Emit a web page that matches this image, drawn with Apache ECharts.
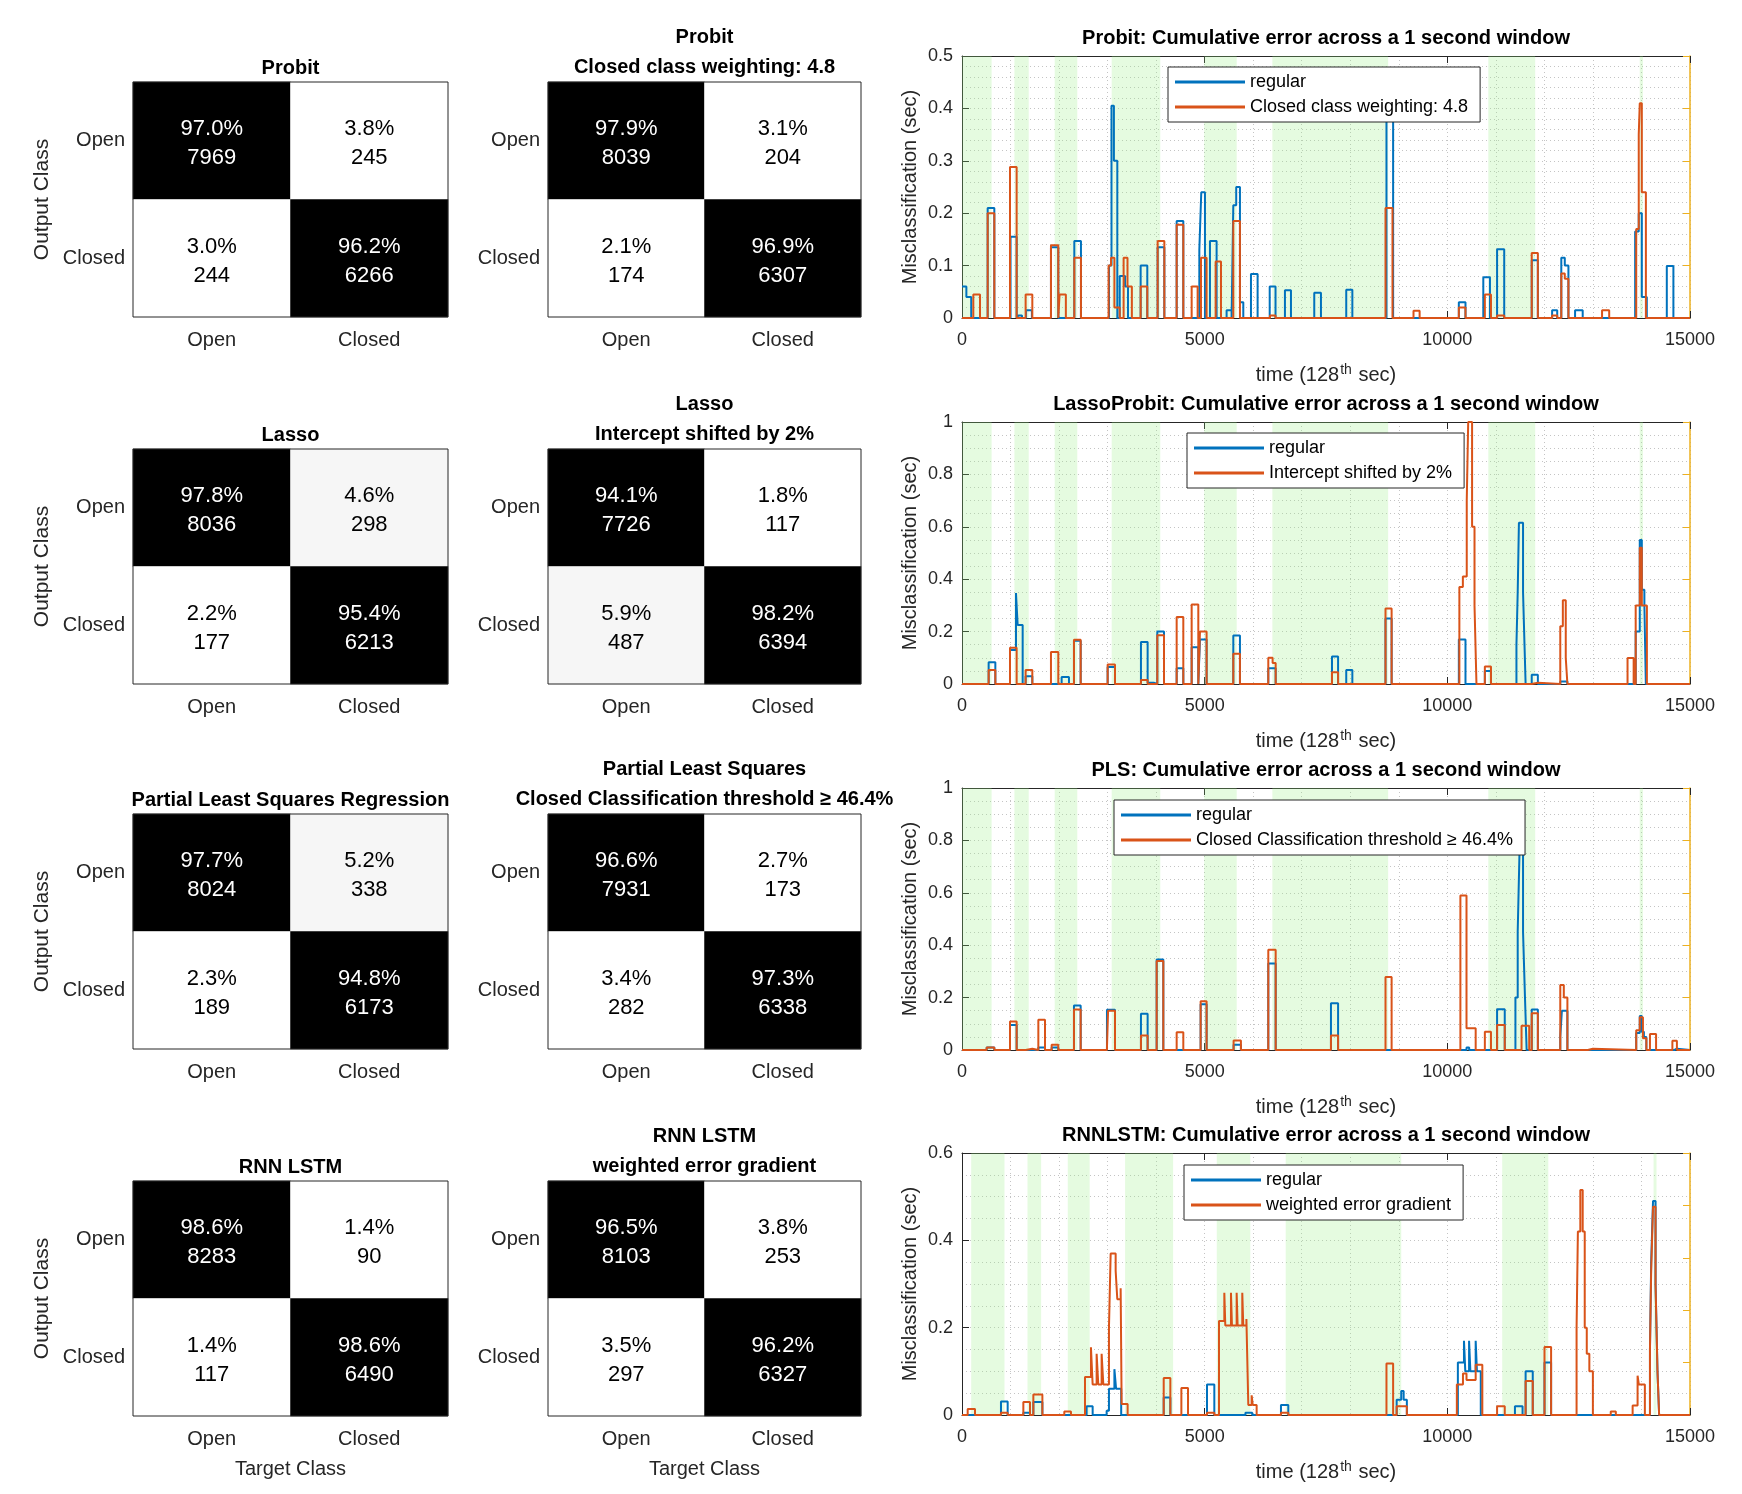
<!DOCTYPE html>
<html>
<head>
<meta charset="utf-8">
<script src="https://cdn.jsdelivr.net/npm/echarts@6/dist/echarts.min.js"></script>
<style>
html,body{margin:0;padding:0;background:#fff;}
#main{width:1742px;height:1494px;}
</style>
</head>
<body>
<div id="main"></div>
<script>
// ---------------- DATA ----------------
const classLabels = ['Open', 'Closed'];

// confusion matrices (row-major: [Out Open/Tgt Open, Out Open/Tgt Closed, Out Closed/Tgt Open, Out Closed/Tgt Closed])
const probitPct = [97.0, 3.8, 3.0, 96.2];
const probitCnt = [7969, 245, 244, 6266];
const probitWPct = [97.9, 3.1, 2.1, 96.9];
const probitWCnt = [8039, 204, 174, 6307];
const lassoPct = [97.8, 4.6, 2.2, 95.4];
const lassoCnt = [8036, 298, 177, 6213];
const lassoSPct = [94.1, 1.8, 5.9, 98.2];
const lassoSCnt = [7726, 117, 487, 6394];
const plsPct = [97.7, 5.2, 2.3, 94.8];
const plsCnt = [8024, 338, 189, 6173];
const plsTPct = [96.6, 2.7, 3.4, 97.3];
const plsTCnt = [7931, 173, 282, 6338];
const rnnPct = [98.6, 1.4, 1.4, 98.6];
const rnnCnt = [8283, 90, 117, 6490];
const rnnWPct = [96.5, 3.8, 3.5, 96.2];
const rnnWCnt = [8103, 253, 297, 6327];

const matTitles1 = ['Probit', 'Lasso', 'Partial Least Squares Regression', 'RNN LSTM'];
const matTitles2 = ['Probit\nClosed class weighting: 4.8', 'Lasso\nIntercept shifted by 2%',
  'Partial Least Squares\nClosed Classification threshold \u2265 46.4%', 'RNN LSTM\nweighted error gradient'];
const lineTitles = ['Probit: Cumulative error across a 1 second window',
  'LassoProbit: Cumulative error across a 1 second window',
  'PLS: Cumulative error across a 1 second window',
  'RNNLSTM: Cumulative error across a 1 second window'];
const altNames = ['Closed class weighting: 4.8', 'Intercept shifted by 2%',
  'Closed Classification threshold \u2265 46.4%', 'weighted error gradient'];

// y-axis settings of the error plots
const errYMax = [0.5, 1, 1, 0.6];
const errYInterval = [0.1, 0.2, 0.2, 0.2];
const errYMinor = [5, 4, 4, 4];

// shaded (closed) periods, in 128th sec
const shadeStd = [[0, 610], [1080, 1375], [1910, 2375], [3085, 4085], [4990, 5660], [6395, 8780], [10845, 11810], [13965, 14030]];
const shadeRnn = [[190, 875], [1350, 1630], [2180, 2630], [3360, 4350], [5250, 5940], [6670, 9050], [11130, 12080], [14250, 14310]];

// step series: [time, value] — value holds until the next point
const probitReg = [[0,0.06],[90,0.04],[190,0],[529,0.21],[666,0],[1000,0.155],[1126,0],[1162,0.005],[1236,0],[1320,0.015],[1440,0],
  [1833,0.135],[1984,0],[2314,0.147],[2451,0],[3030,0.1],[3080,0.405],[3130,0.3],[3200,0],[3250,0.08],[3360,0.06],[3420,0],
  [3681,0.1],[3818,0],[4031,0.135],[4169,0],[4423,0.185],[4560,0],[4890,0.13],[4930,0.24],[5006,0],[5109,0.147],[5246,0],
  [5452,0.015],[5555,0],[5590,0.215],[5650,0.25],[5727,0.03],[5796,0],[5954,0.084],[6091,0],[6340,0.06],[6460,0],
  [6654,0.053],[6778,0],[7258,0.048],[7396,0],[7917,0.054],[8043,0],[8746,0.39],[8883,0],[10237,0.03],[10374,0],
  [10741,0.078],[10878,0],[11025,0.131],[11172,0],[11739,0.11],[11865,0],[12159,0.015],[12264,0],[12348,0.115],[12420,0.1],[12495,0],
  [12632,0.015],[12789,0],[13870,0.165],[13944,0.2],[14007,0.04],[14110,0],[14522,0.099],[14658,0],[15000,0]];
const probitAlt = [[0,0],[233,0.045],[371,0],[529,0.2],[666,0],[989,0.288],[1126,0],[1311,0.045],[1449,0],[1833,0.139],[1984,0],
  [2010,0.045],[2140,0],[2314,0.115],[2451,0],[3020,0.1],[3070,0.115],[3140,0.02],[3250,0],[3330,0.115],[3410,0.06],[3500,0],
  [3681,0.06],[3818,0],[4031,0.147],[4169,0],[4423,0.178],[4560,0],[4732,0.06],[4855,0],[4924,0.115],[5040,0],[5226,0.108],[5336,0],
  [5590,0.185],[5727,0],[6346,0.005],[6460,0],[8726,0.21],[8870,0],[9303,0.014],[9429,0],[10237,0.02],[10374,0],[10773,0.045],[10899,0],
  [11025,0.005],[11172,0],[11739,0.124],[11865,0],[12159,0.005],[12264,0],[12348,0.085],[12420,0.075],[12495,0],[13188,0.015],[13335,0],
  [13892,0.17],[13944,0.35],[13965,0.41],[14007,0.24],[14091,0],[15000,0]];

const lassoReg = [[0,0],[549,0.083],[687,0],[989,0.13],[1112,0.347],[1147,0.225],[1250,0],[1311,0.03],[1449,0],[2053,0.027],[2204,0],
  [2307,0.165],[2445,0],[3001,0.065],[3152,0],[3687,0.16],[3825,0.005],[3950,0],[4024,0.2],[4162,0],[4423,0.06],[4560,0],
  [4732,0.14],[4869,0],[4903,0.17],[5040,0],[5590,0.185],[5727,0],[6311,0.06],[6463,0],[7623,0.105],[7749,0],[7917,0.053],[8043,0],
  [8726,0.25],[8852,0],[10237,0.17],[10374,0],[10773,0.05],[10899,0],[11424,0.15],[11450,0.35],[11475,0.615],[11560,0.35],[11590,0.15],[11613,0],
  [11739,0.035],[11865,0],[12327,0.01],[12474,0],[13881,0.2],[13965,0.55],[14007,0.36],[14060,0.3],[14090,0],[15000,0]];
const lassoAlt = [[0,0],[549,0.053],[687,0],[989,0.138],[1126,0],[1311,0.053],[1449,0],[1833,0.122],[1984,0],[2307,0.169],[2445,0],
  [3001,0.074],[3152,0],[3687,0.015],[3825,0],[4024,0.186],[4162,0],[4423,0.256],[4560,0],[4732,0.303],[4869,0],[4903,0.2],[5040,0],
  [5590,0.115],[5727,0],[6311,0.1],[6400,0.08],[6463,0],[7623,0.045],[7749,0],[8726,0.288],[8852,0],
  [10248,0.37],[10320,0.41],[10400,0.7],[10430,1.0],[10510,0.6],[10560,0.3],[10600,0],[10773,0.067],[10899,0],[11739,0.005],[11865,0],
  [12327,0.22],[12380,0.32],[12440,0.1],[12474,0],[13713,0.099],[13839,0],[13881,0.3],[13965,0.52],[14007,0.3],[14112,0],[15000,0]];

const plsReg = [[0,0],[508,0.01],[666,0],[989,0.095],[1126,0],[1573,0.01],[1710,0],[1847,0.01],[1984,0],[2307,0.17],[2445,0],
  [2987,0.154],[3152,0],[3687,0.138],[3825,0],[4011,0.345],[4148,0],[4917,0.175],[5040,0],[5596,0.02],[5747,0],[6311,0.33],[6463,0],
  [7602,0.178],[7749,0],[10395,0.01],[10450,0],[11025,0.156],[11183,0],[11403,0.2],[11450,0.45],[11490,0.78],[11560,0.45],[11600,0.2],[11634,0],
  [11739,0.155],[11865,0],[12327,0.05],[12360,0.15],[12474,0],[13892,0.065],[13965,0.13],[14007,0.07],[14050,0.05],[14101,0],
  [14680,0.005],[14730,0],[15000,0]];
const plsAlt = [[0,0],[508,0.01],[666,0],[989,0.109],[1126,0],[1311,0.005],[1449,0],[1573,0.115],[1710,0],[1847,0.02],[1984,0],
  [2307,0.155],[2445,0],[2987,0.01],[3010,0.15],[3152,0],[3687,0.055],[3825,0],[4011,0.34],[4148,0],[4423,0.068],[4560,0],
  [4917,0.186],[5040,0],[5596,0.036],[5747,0],[6311,0.383],[6463,0],[7602,0.055],[7749,0],[8726,0.279],[8852,0],
  [10269,0.59],[10395,0.083],[10584,0],[10773,0.07],[10899,0],[11025,0.095],[11183,0],[11529,0.093],[11687,0],[11739,0.14],[11865,0],
  [12327,0.248],[12400,0.2],[12474,0],[12894,0.005],[12999,0],[13892,0.075],[13965,0.125],[14030,0.045],[14101,0],
  [14175,0.061],[14301,0],[14637,0.035],[14730,0],[15000,0]];

const rnnReg = [[0,0],[803,0.031],[941,0],[1264,0.005],[1401,0],[1470,0.03],[1656,0],[2568,0.02],[2692,0],
  [2980,0.01],[3028,0.06],[3140,0.105],[3175,0.06],[3280,0],[4156,0.04],[4293,0],[5048,0.07],[5199,0],[5840,0.005],[5980,0],
  [6572,0.023],[6723,0],[8956,0.035],[9050,0.055],[9100,0.035],[9166,0],
  [10217,0.12],[10343,0.17],[10370,0.1],[10448,0.17],[10475,0.1],[10584,0.17],[10610,0.1],[10689,0],
  [11393,0.02],[11550,0],[11613,0.1],[11760,0],[12002,0.12],[12138,0],
  [14175,0.15],[14200,0.35],[14238,0.49],[14290,0.3],[14330,0.1],[14364,0],[15000,0]];
const rnnAlt = [[0,0],[117,0.014],[268,0],[803,0.005],[941,0],[1264,0.03],[1401,0],[1470,0.047],[1656,0],[2108,0.008],[2245,0],
  [2534,0.087],[2657,0.155],[2692,0.07],[2774,0.14],[2808,0.07],[2877,0.14],[2912,0.07],[3028,0.2],[3063,0.37],[3166,0.33],[3200,0.265],
  [3269,0.29],[3289,0.025],[3413,0],[4156,0.085],[4293,0],[4520,0.062],[4657,0],[5048,0.005],[5199,0],
  [5295,0.215],[5405,0.28],[5425,0.205],[5542,0.28],[5562,0.205],[5659,0.28],[5679,0.205],[5775,0.28],[5795,0.205],[5860,0.22],
  [5899,0.023],[5968,0.045],[5990,0.023],[6071,0],[6572,0.005],[6723,0],[8746,0.118],[8883,0],[8956,0.02],[9166,0],
  [10196,0.07],[10322,0.095],[10395,0.08],[10584,0.115],[10721,0],[11025,0.02],[11183,0],[11613,0.078],[11760,0],
  [12002,0.156],[12138,0],[12663,0.2],[12690,0.42],[12740,0.515],[12789,0.42],[12831,0.2],[12873,0.14],[12926,0.1],[12999,0],
  [13367,0.008],[13472,0],[13818,0.022],[13920,0.09],[13945,0.07],[14070,0],
  [14175,0.15],[14200,0.33],[14238,0.477],[14290,0.3],[14330,0.1],[14364,0],[15000,0]];

// ---------------- LAYOUT ----------------
const FONT = '"Liberation Sans", Arial, Helvetica, sans-serif';
const TXT = '#262626';
const BLUE = '#0072BD', ORANGE = '#D95319', GOLD = '#EDB120';
const rowTop = [82, 449, 814, 1181];
const matH = 235;
const matLeft = [133, 548];
const matW = [315, 313];
const lineTop = [56, 422, 788, 1153];
const lineLeft = 962, lineW = 728, lineH = 262;

const mats = [
  [[probitPct, probitCnt], [probitWPct, probitWCnt]],
  [[lassoPct, lassoCnt], [lassoSPct, lassoSCnt]],
  [[plsPct, plsCnt], [plsTPct, plsTCnt]],
  [[rnnPct, rnnCnt], [rnnWPct, rnnWCnt]]
];
const lines = [[probitReg, probitAlt], [lassoReg, lassoAlt], [plsReg, plsAlt], [rnnReg, rnnAlt]];
const shades = [shadeStd, shadeStd, shadeStd, shadeRnn];
const legendPos = [[1168, 67], [1187, 433], [1114, 800], [1184, 1165]];

const grids = [], xAxes = [], yAxes = [], series = [], titles = [], legends = [];
const heatIdx = [];

function matData(pct, cnt) {
  const d = [];
  for (let r = 0; r < 2; r++) for (let c = 0; c < 2; c++) d.push([c, r, pct[r * 2 + c], cnt[r * 2 + c]]);
  return d;
}

for (let r = 0; r < 4; r++) {
  // confusion matrices
  for (let k = 0; k < 2; k++) {
    const gi = grids.length;
    grids.push({left: matLeft[k], top: rowTop[r], width: matW[k], height: matH, show: true,
      borderColor: TXT, borderWidth: 1, backgroundColor: 'transparent', z: 10});
    const xi = xAxes.length;
    xAxes.push({type: 'category', gridIndex: gi, data: classLabels, position: 'bottom',
      axisLine: {show: false}, axisTick: {show: false}, splitLine: {show: false},
      axisLabel: {fontFamily: FONT, fontSize: 20, color: TXT, margin: 13},
      name: r === 3 ? 'Target Class' : '', nameLocation: 'middle', nameGap: 43,
      nameTextStyle: {fontFamily: FONT, fontSize: 20, color: TXT}});
    const yi = yAxes.length;
    yAxes.push({type: 'category', gridIndex: gi, data: classLabels, inverse: true,
      axisLine: {show: false}, axisTick: {show: false}, splitLine: {show: false},
      axisLabel: {fontFamily: FONT, fontSize: 20, color: TXT, margin: 8, padding: [6, 0, 0, 0]},
      name: k === 0 ? 'Output Class' : '', nameLocation: 'middle', nameGap: 80, nameRotate: 90,
      nameTextStyle: {fontFamily: FONT, fontSize: 21, color: TXT}});
    heatIdx.push(series.length);
    series.push({type: 'heatmap', xAxisIndex: xi, yAxisIndex: yi, animation: false,
      data: matData(mats[r][k][0], mats[r][k][1]),
      label: {show: true, fontFamily: FONT, offset: [0, 3],
        formatter: p => {
          const s = p.value[2] >= 50 ? 'w' : 'k';
          return '{' + s + '|' + p.value[2].toFixed(1) + '%}\n{' + s + '|' + p.value[3] + '}';
        },
        rich: {w: {color: '#fff', fontSize: 22, lineHeight: 29, fontFamily: FONT},
               k: {color: '#000', fontSize: 22, lineHeight: 29, fontFamily: FONT}}},
      emphasis: {disabled: true}});
  }
  // titles of matrices
  const c1 = matLeft[0] + matW[0] / 2, c2 = matLeft[1] + matW[1] / 2;
  titles.push({text: matTitles1[r], left: c1, textAlign: 'center', top: rowTop[r] - 29, padding: 0,
    textStyle: {fontFamily: FONT, fontSize: 20, fontWeight: 'bold', color: '#000', lineHeight: 30}});
  titles.push({text: matTitles2[r], left: c2, textAlign: 'center', top: rowTop[r] - 60, padding: 0,
    textStyle: {fontFamily: FONT, fontSize: 20, fontWeight: 'bold', color: '#000', lineHeight: 30}});
  titles.push({text: lineTitles[r], left: lineLeft + lineW / 2, textAlign: 'center', top: lineTop[r] - 32, padding: 0,
    textStyle: {fontFamily: FONT, fontSize: 20, fontWeight: 'bold', color: '#000', lineHeight: 28}});

  // error plot
  const gi = grids.length;
  grids.push({left: lineLeft, top: lineTop[r], width: lineW, height: lineH, show: false});
  const xb = xAxes.length;
  const dotted = {color: '#c4c4c4', type: [1, 3], width: 1};
  xAxes.push({type: 'value', gridIndex: gi, min: 0, max: 15000, interval: 5000, position: 'bottom',
    axisLine: {show: true, onZero: false, lineStyle: {color: TXT, width: 1}},
    axisTick: {show: true, inside: true, length: 7, lineStyle: {color: TXT}},
    axisLabel: {fontFamily: FONT, fontSize: 18, color: TXT, margin: 13, formatter: v => String(v)},
    splitLine: {show: true, lineStyle: dotted},
    minorTick: {show: false, splitNumber: 5},
    minorSplitLine: {show: true, lineStyle: dotted},
    name: 'time (128{sup|th} sec)', nameLocation: 'middle', nameGap: 45,
    nameTextStyle: {fontFamily: FONT, fontSize: 20, color: TXT,
      rich: {sup: {fontFamily: FONT, fontSize: 14, color: TXT, verticalAlign: 'top', padding: [0, 1, 10, 1]}}}});
  xAxes.push({type: 'value', gridIndex: gi, min: 0, max: 15000, interval: 5000, position: 'top',
    axisLine: {show: true, onZero: false, lineStyle: {color: TXT, width: 1}},
    axisTick: {show: true, inside: true, length: 7, lineStyle: {color: TXT}},
    axisLabel: {show: false}, splitLine: {show: false}});
  const yl = yAxes.length;
  yAxes.push({type: 'value', gridIndex: gi, min: 0, max: errYMax[r], interval: errYInterval[r], position: 'left',
    axisLine: {show: true, onZero: false, lineStyle: {color: TXT, width: 1}},
    axisTick: {show: true, inside: true, length: 7, lineStyle: {color: TXT}},
    axisLabel: {fontFamily: FONT, fontSize: 18, color: TXT, margin: 9},
    splitLine: {show: true, lineStyle: dotted},
    minorTick: {show: false, splitNumber: errYMinor[r]},
    minorSplitLine: {show: true, lineStyle: dotted},
    name: 'Misclassification (sec)', nameLocation: 'middle', nameGap: 42, nameRotate: 90,
    nameTextStyle: {fontFamily: FONT, fontSize: 20, color: TXT}});
  yAxes.push({type: 'value', gridIndex: gi, min: 0, max: 1, interval: 0.2, position: 'right',
    axisLine: {show: true, onZero: false, lineStyle: {color: GOLD, width: 1.5}},
    axisTick: {show: true, inside: true, length: 7, lineStyle: {color: GOLD}},
    axisLabel: {show: false}, splitLine: {show: false}});

  // shaded periods
  series.push({type: 'line', name: 'shade' + r, xAxisIndex: xb, yAxisIndex: yl, data: [], z: 1, animation: false,
    silent: true, symbol: 'none',
    markArea: {silent: true, itemStyle: {color: 'rgba(150,240,130,0.25)', borderWidth: 0},
      data: shades[r].map(s => [{xAxis: s[0]}, {xAxis: s[1]}])}});
  series.push({type: 'line', name: 'regular', xAxisIndex: xb, yAxisIndex: yl, data: lines[r][0], step: 'end',
    symbol: 'none', showSymbol: false, animation: false, z: 3,
    lineStyle: {color: BLUE, width: 2}, itemStyle: {color: BLUE}});
  series.push({type: 'line', name: altNames[r], xAxisIndex: xb, yAxisIndex: yl, data: lines[r][1], step: 'end',
    symbol: 'none', showSymbol: false, animation: false, z: 4,
    lineStyle: {color: ORANGE, width: 2}, itemStyle: {color: ORANGE}});

  legends.push({data: ['regular', altNames[r]], left: legendPos[r][0], top: legendPos[r][1], orient: 'vertical',
    backgroundColor: '#fff', borderColor: TXT, borderWidth: 1, padding: [6, 12, 6, 7], itemGap: 7,
    itemWidth: 70, itemHeight: 3, icon: 'rect', selectedMode: false,
    textStyle: {fontFamily: FONT, fontSize: 18, color: '#000'}});
}

const chart = echarts.init(document.getElementById('main'), null, {renderer: 'canvas'});
chart.setOption({
  backgroundColor: '#fff',
  animation: false,
  title: titles,
  legend: legends,
  grid: grids,
  xAxis: xAxes,
  yAxis: yAxes,
  visualMap: {type: 'piecewise', show: false, dimension: 2, seriesIndex: heatIdx,
    pieces: [{min: 50, color: '#000000'}, {min: 4.5, max: 50, color: '#f6f6f6'}, {max: 4.5, color: '#ffffff'}]},
  series: series
});
</script>
</body>
</html>
